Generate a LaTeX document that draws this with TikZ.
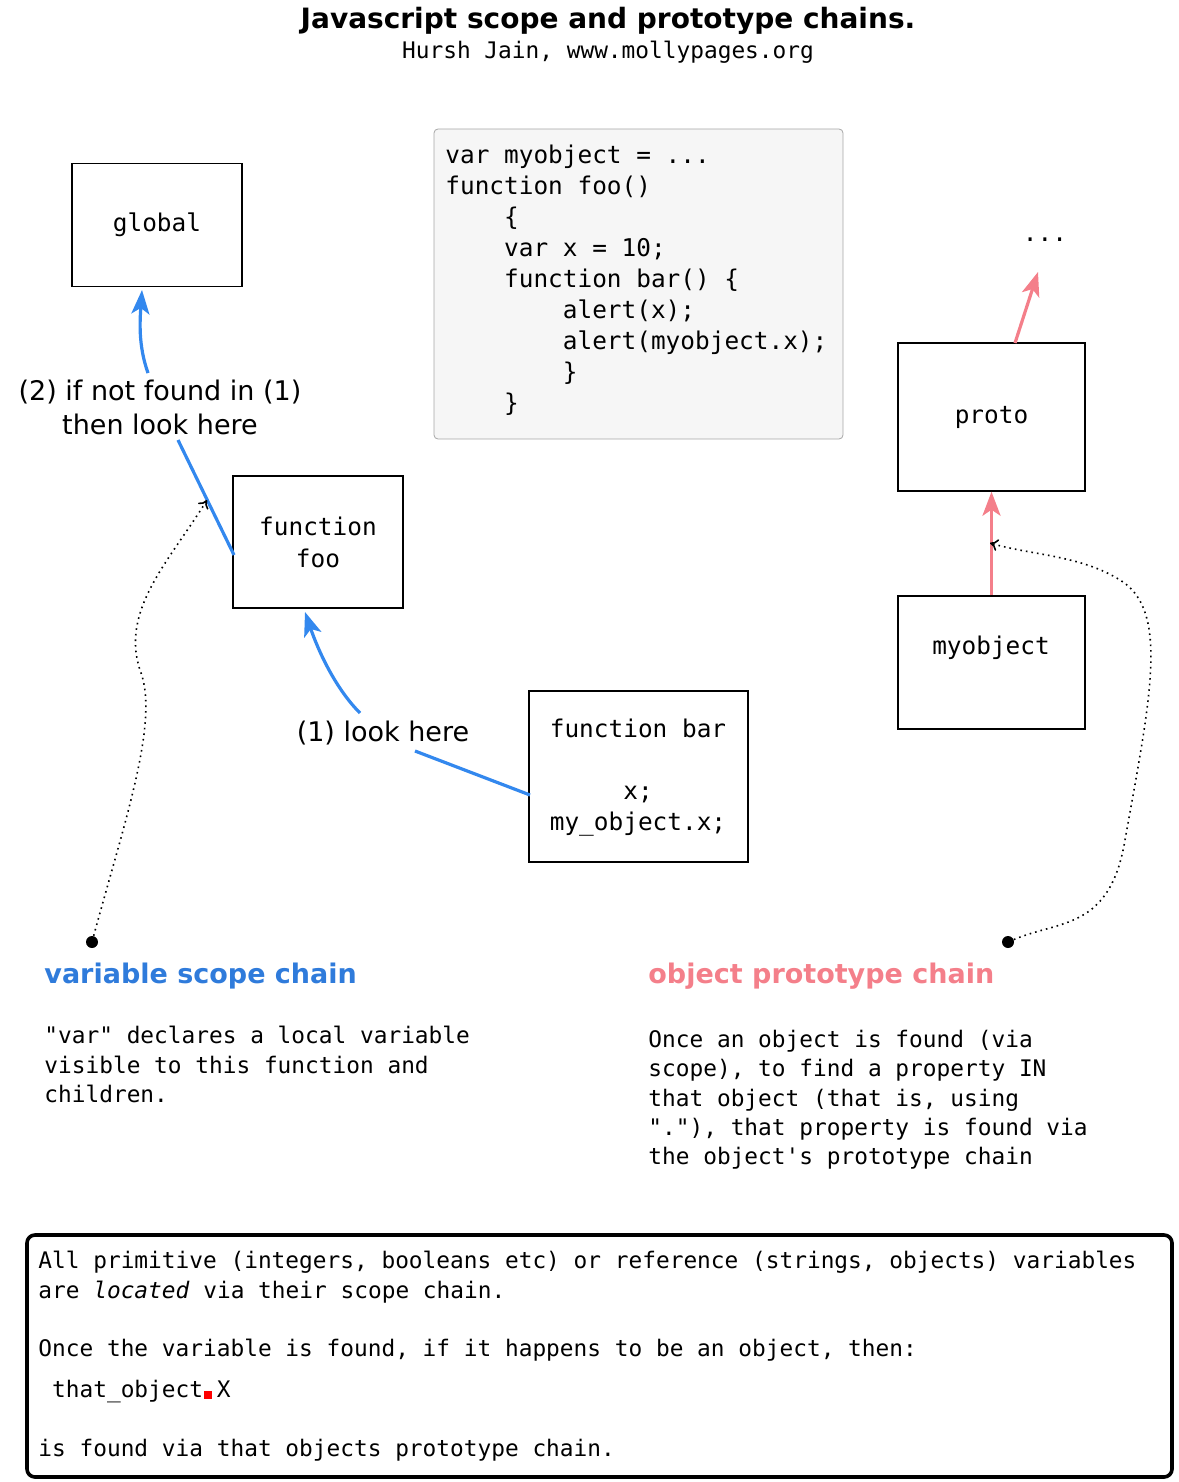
\documentclass[tikz,border=0pt]{standalone}
\usepackage{fontspec}
\setmainfont{DejaVu Sans}
\setmonofont{DejaVu Sans Mono}
\usetikzlibrary{arrows.meta}
\definecolor{sblue}{HTML}{3388EE}
\definecolor{hblue}{HTML}{2F7BDB}
\definecolor{spink}{HTML}{F47F8A}
\begin{document}
\begin{tikzpicture}[x=0.5pt,y=-0.5pt,
  box/.style={draw,line width=0.7pt,font=\ttfamily\fontsize{12.2}{16}\selectfont,align=center,inner sep=0},
  barr/.style={sblue,line width=1.6pt,-{Stealth[length=12pt,width=9pt,inset=3pt]}},
  parr/.style={spink,line width=1.6pt,-{Stealth[length=12pt,width=9pt,inset=3pt]}},
  darr/.style={dotted,line width=0.8pt,-{To[length=4pt,width=6pt]}},
  lbl/.style={font=\fontsize{13.5}{17}\selectfont,align=center,fill=white,inner sep=1pt},
  txt/.style={font=\ttfamily\fontsize{11.4}{14.6}\selectfont,align=left,anchor=north west,inner sep=0}]
\useasboundingbox (0,0) rectangle (1178,1482);
\node[font=\bfseries\fontsize{14}{16}\selectfont] (title) at (608,21) {Javascript scope and prototype chains.};
\node[font=\ttfamily\fontsize{11.4}{14}\selectfont] (sub) at (608,52) {Hursh Jain, www.mollypages.org};
% code box
\draw[draw=gray!70,fill=gray!7,rounded corners=2pt] (434,129) rectangle (843,439);
\node[txt,font=\ttfamily\fontsize{12.2}{15.5}\selectfont] (code) at (445,145) {var myobject = ...\\function foo()\\\ \ \ \ \{\\\ \ \ \ var x = 10;\\\ \ \ \ function bar() \{\\\ \ \ \ \ \ \ \ alert(x);\\\ \ \ \ \ \ \ \ alert(myobject.x);\\\ \ \ \ \ \ \ \ \}\\\ \ \ \ \}};
% boxes
\node[box,minimum width=170*0.5pt,minimum height=123*0.5pt] (global) at (157,225) {global};
\node[box,minimum width=170*0.5pt,minimum height=132*0.5pt] (foo) at (318,542) {function\\foo};
\node[box,minimum width=219*0.5pt,minimum height=171*0.5pt] (bar) at (638.5,776.5) {};
\node[font=\ttfamily\fontsize{12.2}{15.5}\selectfont,align=center] (bart) at (638,778) {function bar\\[15.5pt]x;\\my\_object.x;};
\node[box,minimum width=187*0.5pt,minimum height=148*0.5pt] (proto) at (991.5,417) {proto};
\node[box,minimum width=187*0.5pt,minimum height=133*0.5pt] (myobj) at (991.5,662.5) {};
\node[font=\ttfamily\fontsize{12.2}{15}\selectfont] (myobjt) at (991,648) {myobject};
\node[font=\ttfamily\fontsize{12.2}{15}\selectfont] (dots) at (1045,240) {...};
% pink arrows
\draw[parr] (myobj.north) -- (proto.south);
\coordinate (ptop) at (1015,343);
\draw[parr] (ptop) -- (1038,272);
% blue labels and arrows
\node[lbl] (l1) at (383,733) {(1) look here};
\node[lbl,font=\fontsize{13.5}{17}\selectfont] (l2) at (160,407) {(2) if not found in (1)\\then look here};
\coordinate (barl) at (530,795);
\coordinate (l1a) at (415,751);
\coordinate (l1b) at (360,713);
\coordinate (foob) at (305,612);
\draw[sblue,line width=1.6pt] (barl) -- (l1a);
\draw[barr] (l1b) .. controls (335,688) and (318,650) .. (foob);
\coordinate (fool) at (234,555);
\coordinate (l2a) at (178,440);
\coordinate (l2b) at (148,373);
\coordinate (glb) at (142,290);
\draw[sblue,line width=1.6pt] (fool) -- (l2a);
\draw[barr] (l2b) .. controls (138,345) and (140,320) .. (glb);
% dotted
\node[circle,fill,inner sep=0,minimum size=6pt] (d1) at (92,942) {};
\node[circle,fill,inner sep=0,minimum size=6pt] (d2) at (1008,942) {};
\coordinate (t1) at (207,500);
\coordinate (t2) at (990,543);
\draw[darr] (d1) .. controls (125,820) and (160,720) .. (140,670) .. controls (120,610) and (170,560) .. (t1);
\draw[darr] (d2) .. controls (1060,920) and (1110,930) .. (1125,840) .. controls (1150,700) and (1170,610) .. (1120,580) .. controls (1080,555) and (1030,555) .. (t2);
% headings
\node[anchor=west,font=\bfseries\fontsize{13.5}{16}\selectfont,text=hblue,inner sep=0] (h1) at (44,976) {variable scope chain};
\node[anchor=west,font=\bfseries\fontsize{13.5}{16}\selectfont,text=spink,inner sep=0] (h2) at (648,976) {object prototype chain};
\node[txt] (t1txt) at (44,1026) {"var" declares a local variable\\visible to this function and\\children.};
\node[txt] (t2txt) at (648,1030) {Once an object is found (via\\scope), to find a property IN\\that object (that is, using\\"."), that property is found via\\the object's prototype chain};
% bottom box
\draw[line width=1.8pt,rounded corners=4pt] (27,1235) rectangle (1172,1477);
\node[txt] (btxt) at (38,1251) {All primitive (integers, booleans etc) or reference (strings, objects) variables\\are \textit{located} via their scope chain.\\[14.6pt]Once the variable is found, if it happens to be an object, then:\\[6pt]\ that\_object\textcolor{red}{.}X\\[14.6pt]is found via that objects prototype chain.};
\fill[red] (204,1391) rectangle (212,1399);
\end{tikzpicture}
\end{document}
